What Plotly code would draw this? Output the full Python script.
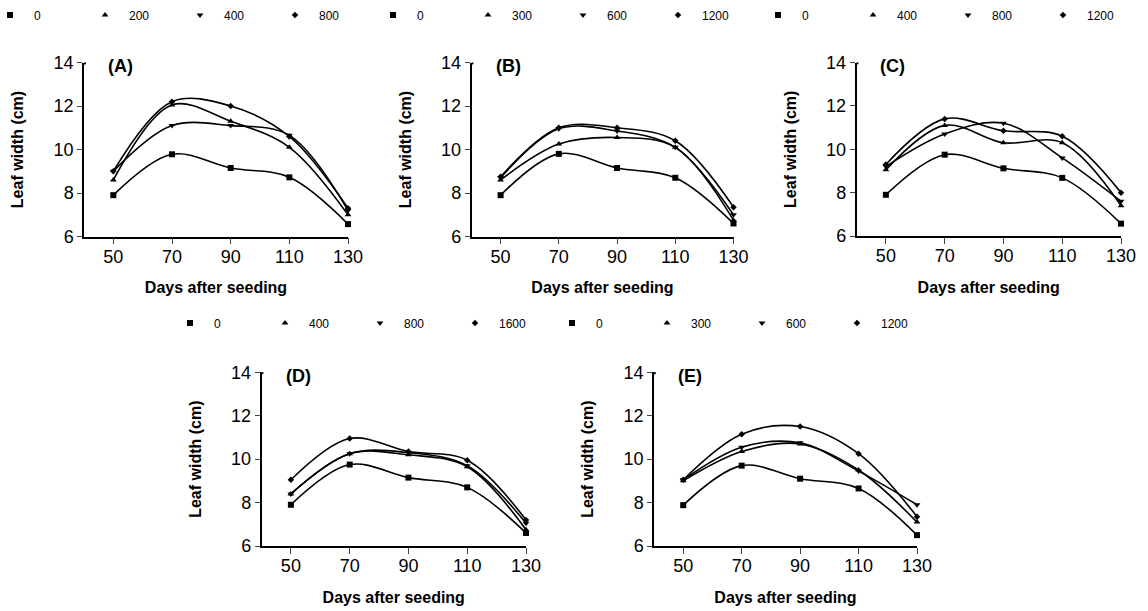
import plotly.graph_objects as go

days = [50, 70, 90, 110, 130]

# Panel A
A_levels = ["0", "200", "400", "800"]
A_0 = [7.9, 9.78, 9.15, 8.72, 6.57]
A_1 = [8.6, 12.05, 11.3, 10.1, 7.0]
A_2 = [9.0, 11.1, 11.1, 10.65, 7.2]
A_3 = [9.0, 12.2, 12.0, 10.6, 7.3]

# Panel B
B_levels = ["0", "300", "600", "1200"]
B_0 = [7.9, 9.8, 9.15, 8.7, 6.6]
B_1 = [8.6, 10.25, 10.55, 10.1, 6.75]
B_2 = [8.7, 10.95, 10.85, 10.1, 7.0]
B_3 = [8.75, 11.0, 11.0, 10.4, 7.35]

# Panel C
C_levels = ["0", "400", "800", "1200"]
C_0 = [7.9, 9.75, 9.12, 8.68, 6.57]
C_1 = [9.05, 11.1, 10.3, 10.3, 7.4]
C_2 = [9.2, 10.7, 11.2, 9.6, 7.6]
C_3 = [9.3, 11.4, 10.85, 10.6, 8.0]

# Panel D
D_levels = ["0", "400", "800", "1600"]
D_0 = [7.9, 9.75, 9.15, 8.7, 6.6]
D_1 = [8.4, 10.25, 10.2, 9.65, 6.75]
D_2 = [8.4, 10.25, 10.3, 9.7, 7.05]
D_3 = [9.05, 10.95, 10.35, 9.95, 7.2]

# Panel E
E_levels = ["0", "300", "600", "1200"]
E_0 = [7.88, 9.7, 9.1, 8.65, 6.5]
E_1 = [9.0, 10.35, 10.7, 9.5, 7.1]
E_2 = [9.05, 10.55, 10.75, 9.45, 7.9]
E_3 = [9.05, 11.15, 11.5, 10.25, 7.35]

panel_names = ["(A)", "(B)", "(C)", "(D)", "(E)"]
panel_levels = [A_levels, B_levels, C_levels, D_levels, E_levels]
panel_series = [
    [A_0, A_1, A_2, A_3],
    [B_0, B_1, B_2, B_3],
    [C_0, C_1, C_2, C_3],
    [D_0, D_1, D_2, D_3],
    [E_0, E_1, E_2, E_3],
]
y_ticks = [6, 8, 10, 12, 14]

W, H = 1148, 611
# plot-area pixel boxes (left, right, top, bottom)
boxes = [
    (84, 348, 62.5, 236.5),
    (471.5, 733.5, 62.5, 236.5),
    (856.5, 1121, 62.5, 236),
    (261.5, 526, 372.3, 546),
    (654, 917, 372.3, 546),
]
legend_pos = [(-14, 15), (369, 15), (754, 15), (166, 323), (548, 323)]

symbols = ["square", "triangle-up", "triangle-down", "diamond"]
sizes = [6, 6, 6, 5]

FONT = "Liberation Sans, Arial, sans-serif"

fig = go.Figure()
layout = dict(
    width=W, height=H, margin=dict(l=0, r=0, t=0, b=0, autoexpand=False),
    paper_bgcolor="white", plot_bgcolor="white",
    font=dict(family=FONT, color="black"),
    showlegend=True,
)
annotations = []
shapes = []

for i in range(5):
    n = i + 1
    xa = "x" if n == 1 else f"x{n}"
    ya = "y" if n == 1 else f"y{n}"
    lg = "legend" if n == 1 else f"legend{n}"
    for j, vals in enumerate(panel_series[i]):
        fig.add_trace(go.Scatter(
            x=days, y=vals, xaxis=xa, yaxis=ya, showlegend=False,
            mode="lines", hoverinfo="skip",
            line=dict(color="black", width=1.6, shape="spline", smoothing=1.0),
        ))
    for j, vals in enumerate(panel_series[i]):
        fig.add_trace(go.Scatter(
            x=days, y=vals, xaxis=xa, yaxis=ya, legend=lg,
            name=panel_levels[i][j], mode="markers",
            marker=dict(symbol=symbols[j], size=sizes[j], color="black"),
            cliponaxis=False,
        ))
    l, r, t, b = boxes[i]
    xkey = "xaxis" if n == 1 else f"xaxis{n}"
    ykey = "yaxis" if n == 1 else f"yaxis{n}"
    layout[xkey] = dict(
        domain=[l / W, r / W], anchor=ya, range=[40, 130],
        tickvals=days, ticks="outside", ticklen=6, tickwidth=1.3,
        ticklabelstandoff=-3,
        showline=True, linecolor="black", linewidth=1.5, showgrid=False,
        zeroline=False, tickfont=dict(size=18, family=FONT),
        title=dict(text="<b>Days after seeding</b>", font=dict(size=16, family=FONT), standoff=16),
    )
    layout[ykey] = dict(
        domain=[1 - b / H, 1 - t / H], anchor=xa, range=[6, 14],
        tickvals=y_ticks, ticks="outside", ticklen=5, tickwidth=1.3,
        showline=True, linecolor="black", linewidth=1.5, showgrid=False,
        zeroline=False, tickfont=dict(size=18, family=FONT),
        title=dict(text="<b>Leaf width (cm)</b>", font=dict(size=16, family=FONT), standoff=26),
    )
    lx, ly = legend_pos[i]
    layout[lg] = dict(
        orientation="h", x=lx / W, xanchor="left", y=1 - ly / H, yanchor="middle",
        entrywidth=42, entrywidthmode="pixels", itemwidth=38,
        font=dict(size=12, family=FONT, color="black"),
        bgcolor="rgba(0,0,0,0)", borderwidth=0,
    )
    annotations.append(dict(
        text=f"<b>{panel_names[i]}</b>", xref=f"{xa} domain", yref=f"{ya} domain",
        x=0, y=1, xshift=22, yshift=-4, xanchor="left", yanchor="middle",
        showarrow=False, font=dict(size=18, family=FONT, color="black"),
    ))
    shapes.append(dict(
        type="circle", xref=xa, yref=ya, xsizemode="pixel", ysizemode="pixel",
        xanchor=40, yanchor=14, x0=-2.2, x1=2.2, y0=-2.2, y1=2.2,
        fillcolor="black", line=dict(color="black", width=0),
    ))

layout["annotations"] = annotations
layout["shapes"] = shapes
fig.update_layout(**layout)
fig.write_html("out.html")
